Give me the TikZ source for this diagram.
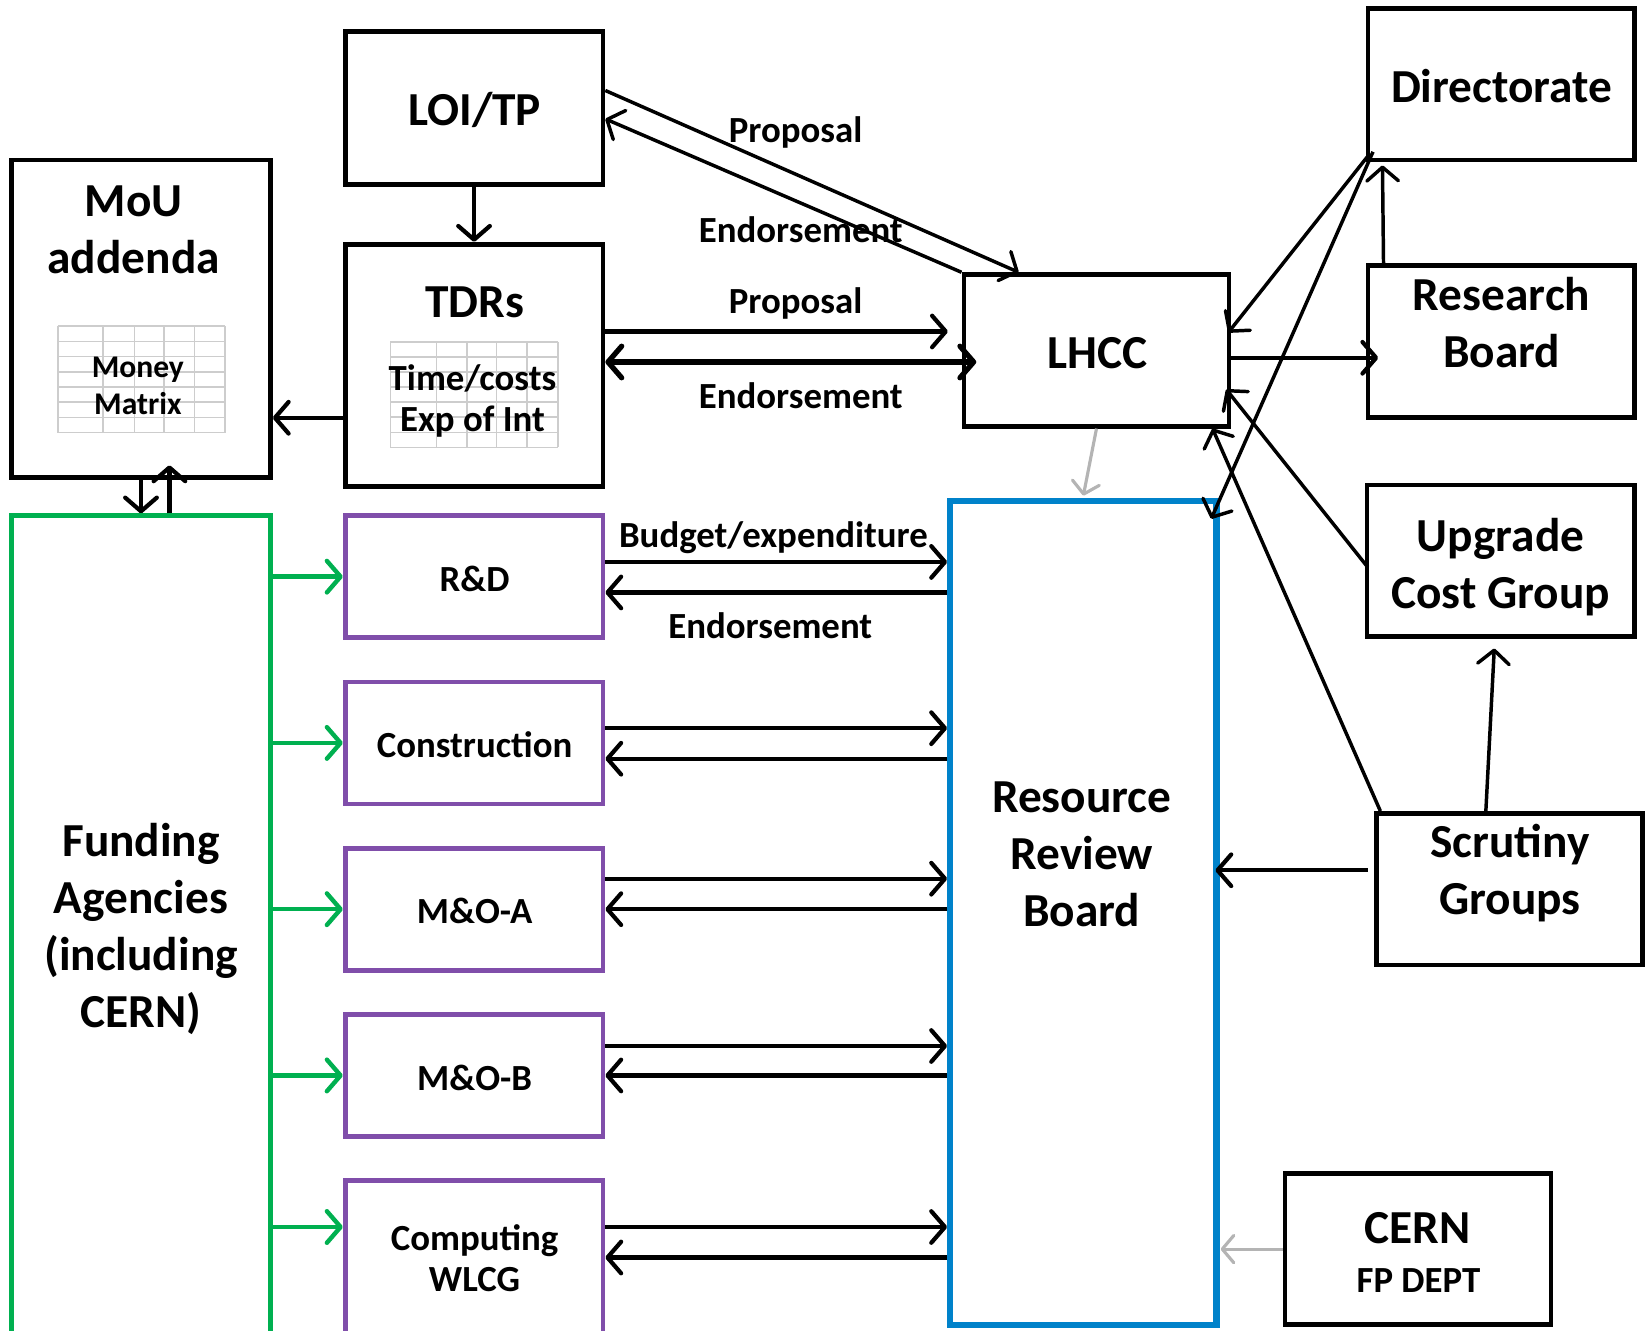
\documentclass[tikz,border=0pt]{standalone}
\usepackage{fontspec}
\setmainfont{Carlito}
\usetikzlibrary{arrows.meta}
\definecolor{fgreen}{RGB}{0,176,80}
\definecolor{fpurple}{RGB}{128,78,170}
\definecolor{fblue}{RGB}{0,130,202}
\definecolor{fgray}{RGB}{180,180,180}
\definecolor{gridgray}{RGB}{205,205,205}
\tikzset{
  box/.style={draw=black, line width=4.5pt, rectangle, inner sep=0pt, minimum width=253pt, minimum height=144pt},
  gbox/.style={draw=fgreen, line width=4.2pt, rectangle, inner sep=0pt},
  pbox/.style={draw=fpurple, line width=4.5pt, rectangle, inner sep=0pt, minimum width=245pt, minimum height=116pt},
  bbox/.style={draw=fblue, line width=6pt, rectangle, inner sep=0pt},
  big/.style={font=\fontsize{45}{54}\selectfont\bfseries, align=center, inner sep=0pt, anchor=base},
  med/.style={font=\fontsize{35}{39}\selectfont\bfseries, align=center, inner sep=0pt, anchor=base},
  sml/.style={font=\fontsize{30}{35}\selectfont\bfseries, align=center, inner sep=0pt, anchor=base},
  barb/.tip={Straight Barb[length=13pt,width=30pt,round]},
  arr/.style={-barb, line width=4pt, draw=black},
  thinarr/.style={-barb, line width=3.3pt, draw=black},
  grarr/.style={-barb, line width=4.2pt, draw=fgreen},
  grayarr/.style={-{Straight Barb[length=11pt,width=26pt,round]}, line width=3pt, draw=fgray},
  gridline/.style={draw=gridgray, line width=1.5pt}
}
\begin{document}
\begin{tikzpicture}[x=1pt,y=-1pt]
\path[use as bounding box] (0,0) rectangle (1568,1264);
\clip (0,0) rectangle (1568,1264);

% ---- boxes ----
\node[box, minimum width=245pt, minimum height=145pt] (loi) at (450.5,102.5) {};
\node[box, minimum width=246pt, minimum height=302pt] (mou) at (134,303) {};
\node[box, minimum width=245pt, minimum height=230pt] (tdr) at (450.5,347) {};
\node[box, minimum width=252pt] (lhcc) at (1042,333) {};
\node[box] (dir) at (1426.5,80) {};
\node[box, minimum height=145pt] (rb) at (1426.5,324.5) {};
\node[box, minimum width=254pt] (ucg) at (1426,533) {};
\node[box] (sg) at (1434.5,845) {};
\node[box] (cern) at (1347.5,1187) {};
\node[gbox, minimum width=246pt, minimum height=800pt] (fund) at (134,890) {};
\node[bbox, minimum width=253pt, minimum height=783pt] (rrb) at (1029.5,867.5) {};
\node[pbox] (rd) at (450.5,548) {};
\node[pbox] (con) at (450.5,706) {};
\node[pbox] (moa) at (450.5,864) {};
\node[pbox] (mob) at (450.5,1022) {};
\node[pbox, minimum height=168pt] (comp) at (450.5,1206) {};

% ---- tables ----
\foreach \k in {0,...,7} {\draw[gridline] (55,310+14.43*\k) -- (214,310+14.43*\k);}
\foreach \xx in {55,98,128,156,185,214} {\draw[gridline] (\xx,310) -- (\xx,411);}
\foreach \k in {0,...,7} {\draw[gridline] (371,325+14.3*\k) -- (530,325+14.3*\k);}
\foreach \xx in {371,415,444,472,501,530} {\draw[gridline] (\xx,325) -- (\xx,425);}

% ---- texts (anchor = baseline of last line) ----
\node[big] (tloi) at (451,119) {LOI/TP};
\node[big] (tmou) at (127,260) {MoU\\addenda};
\node[big] (ttdr) at (451,302) {TDRs};
\node[big] (tlhcc) at (1043,350) {LHCC};
\node[big] (tdir) at (1427,97) {Directorate};
\node[big] (trb) at (1427,349) {Research\\Board};
\node[big] (tucg) at (1426,578) {Upgrade\\Cost Group};
\node[big] (tsg) at (1435,869) {Scrutiny\\Groups};
\node[big] (tcern) at (1347,1182) {CERN};
\node[med] (tfp) at (1348,1228) {FP DEPT};
\node[big] (tfund) at (134,976) {Funding\\Agencies\\(including\\CERN)};
\node[big] (trrb) at (1028,880) {Resource\\Review\\Board};
\node[sml] (tmm) at (131,394) {Money\\Matrix};
\node[med] (ttc) at (449,410) {Time/costs\\Exp of Int};
\node[med] (trd) at (451,562) {R\&D};
\node[med] (tcon) at (451,720) {Construction};
\node[med] (tmoa) at (451,878) {M\&O-A};
\node[med] (tmob) at (451,1036) {M\&O-B};
\node[med] (tcomp) at (451,1227) {Computing\\WLCG};
\node[med] (lp1) at (756,135) {Proposal};
\node[med] (le1) at (761,230) {Endorsement};
\node[med] (lp2) at (756,298) {Proposal};
\node[med] (le2) at (761,388) {Endorsement};
\node[med] (lbud) at (735,520) {Budget/expenditure};
\node[med] (le3) at (732,607) {Endorsement};

% ---- black connectors ----
\draw[arr] (loi.south) -- (tdr.north);
\coordinate (tdrout) at ([yshift=-50pt]tdr.west);
\draw[arr] (tdrout) -- (mou.east |- tdrout);
\draw[arr] (mou.south) -- (fund.north);
\draw[arr] ([xshift=27pt]fund.north) -- ([xshift=27pt,yshift=14pt]mou.south);
\draw[thinarr] ([yshift=16.5pt]loi.east) -- ([xshift=-74pt]lhcc.north);
\draw[thinarr] (lhcc.north west) -- ([yshift=-10.5pt]loi.east);
\draw[arr] ([yshift=32pt]tdr.east) -- ([xshift=-13pt,yshift=18pt]lhcc.west);
\draw[arr, line width=5pt, barb-barb] ([yshift=3pt]tdr.east) -- ([xshift=14pt,yshift=-11pt]lhcc.west);
\draw[arr] ([yshift=-7pt]lhcc.east) -- ([xshift=12pt,yshift=-15.5pt]rb.west);
\draw[thinarr] ([xshift=17pt]rb.north west) -- ([xshift=16pt,yshift=-3pt]dir.south west);
\draw[thinarr] ([xshift=3pt,yshift=7pt]dir.south west) -- ([xshift=-3pt,yshift=17pt]lhcc.east);
\draw[thinarr] ([xshift=7pt,yshift=10pt]dir.south west) -- ([xshift=-8pt,yshift=-20pt]rrb.north east);
\draw[thinarr] ([xshift=3pt,yshift=-6pt]ucg.west) -- ([xshift=-5pt,yshift=-37pt]lhcc.east);
\draw[thinarr] ([xshift=6pt]sg.north west) -- ([xshift=-18pt]lhcc.south east);
\draw[thinarr] ([xshift=-22.5pt]sg.north) -- ([xshift=-6pt,yshift=-9pt]ucg.south);
\draw[arr] ([xshift=-6pt,yshift=18pt]sg.west) -- ([xshift=-4pt,yshift=40.5pt]rrb.east);

% ---- gray connectors ----
\coordinate (cernin) at ([xshift=1pt]rrb.east |- cern.west);
\draw[grayarr] (cern.west) -- (cernin);
\draw[grayarr] (lhcc.south) -- ([yshift=2pt]rrb.north);

% ---- green connectors ----
\foreach \b in {rd,con,moa,mob} {\draw[grarr] (fund.east |- \b.west) -- (\b.west);}
\coordinate (compin) at ([yshift=40pt]comp.west);
\draw[grarr] (fund.east |- compin) -- (compin);

% ---- purple box <-> RRB ----
\foreach \b/\u/\d in {rd/14/-15, con/14/-15, moa/29/0, mob/28/0, comp/40/11} {
  \coordinate (\b out) at ([yshift=\u pt]\b.east);
  \coordinate (\b in) at ([yshift=\d pt]\b.east);
  \draw[arr] (\b out) -- (rrb.west |- \b out);
  \draw[arr] (rrb.west |- \b in) -- (\b in);
}
\end{tikzpicture}
\end{document}
